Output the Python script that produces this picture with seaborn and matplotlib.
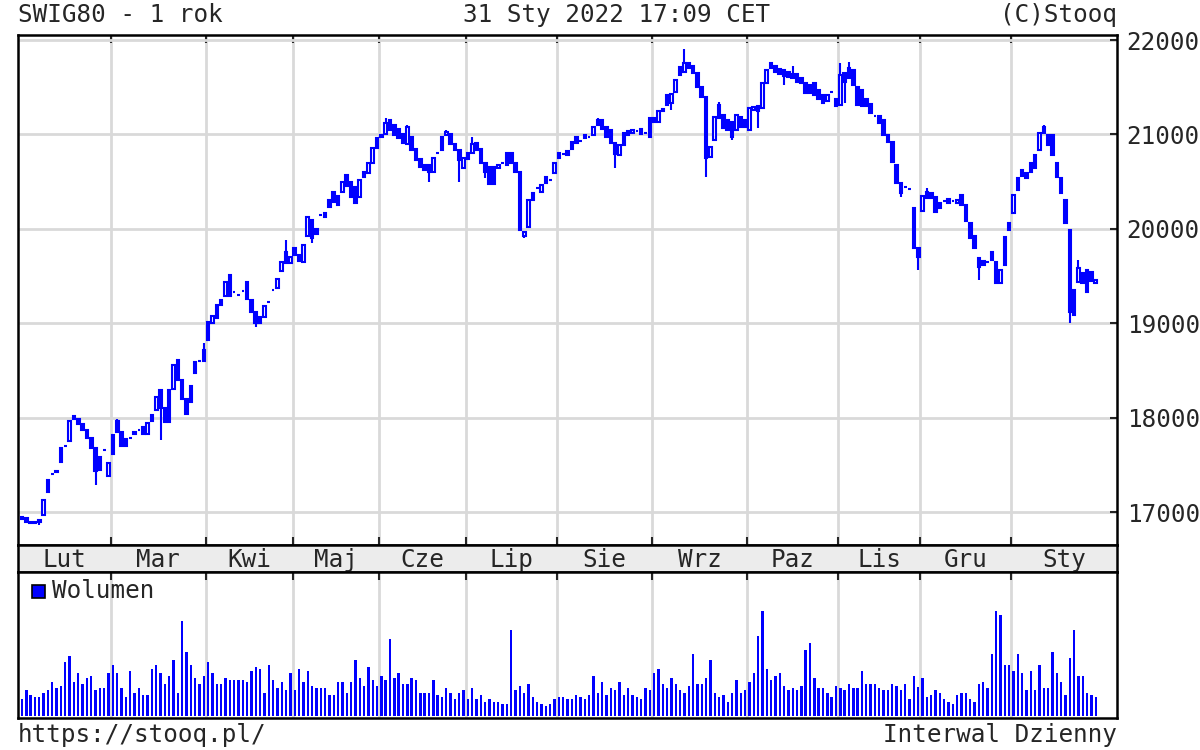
import numpy as np
import pandas as pd
import seaborn as sns
import matplotlib.pyplot as plt
from matplotlib.patches import Rectangle

sns.set_style("white")
plt.rcParams["font.family"] = ["DejaVu Sans Mono", "DejaVu Sans"]

BLUE = "#0000ff"
GRID = "#d9d9d9"

months = ["Lut", "Mar", "Kwi", "Maj", "Cze", "Lip", "Sie", "Wrz", "Paz", "Lis", "Gru", "Sty"]
month_len = [21, 22, 20, 20, 20, 21, 22, 22, 21, 19, 21, 20]
price_ticks = [17000, 18000, 19000, 20000, 21000, 22000]

# (open, close) for each session, month by month
feb = [(16950, 16930), (16940, 16900), (16900, 16880), (16900, 16890), (16920, 16900),
       (16970, 17130), (17210, 17340), (17400, 17400), (17420, 17440), (17530, 17680),
       (17700, 17700), (17750, 17960), (18020, 17990), (17990, 17930), (17930, 17870),
       (17870, 17780), (17780, 17680), (17680, 17440), (17450, 17580), (17660, 17660),
       (17380, 17520)]
mar = [(17620, 17820), (17960, 17850), (17850, 17700), (17700, 17770), (17790, 17790),
       (17830, 17850), (17870, 17870), (17900, 17830), (17830, 17940), (17960, 18030),
       (18080, 18220), (18290, 18100), (18100, 17950), (17950, 18290), (18300, 18560),
       (18610, 18400), (18400, 18200), (18200, 18040), (18170, 18340), (18470, 18590),
       (18600, 18600), (18600, 18720)]
apr = [(18820, 19010), (19000, 19080), (19060, 19190), (19190, 19250), (19290, 19440),
       (19510, 19290), (19330, 19330), (19300, 19300), (19340, 19340), (19440, 19260),
       (19250, 19120), (19120, 19000), (19000, 19070), (19070, 19180), (19230, 19230),
       (19350, 19350), (19370, 19470), (19550, 19650), (19750, 19640), (19640, 19700)]
may = [(19800, 19720), (19720, 19660), (19653, 19830), (19920, 20130), (20090, 19900),
       (20000, 19950), (20147, 20147), (20165, 20130), (20306, 20235), (20394, 20280),
       (20350, 20253), (20394, 20500), (20570, 20450), (20500, 20341), (20447, 20270),
       (20341, 20518), (20553, 20606), (20588, 20694), (20694, 20853), (20853, 20959)]
jun = [(20976, 20994), (21000, 21120), (21150, 21050), (21100, 20990), (21060, 20960),
       (21000, 20910), (20900, 21080), (20976, 20835), (20850, 20730), (20740, 20659),
       (20680, 20620), (20676, 20606), (20606, 20747), (20800, 20800), (20835, 20976),
       (20990, 21030), (21000, 20900), (20900, 20835), (20835, 20729), (20641, 20747)]
jul = [(20740, 20800), (20800, 20900), (20906, 20840), (20850, 20700), (20700, 20600),
       (20650, 20480), (20480, 20650), (20641, 20676), (20700, 20700), (20680, 20800),
       (20800, 20700), (20700, 20600), (20600, 19990), (19920, 19970), (20023, 20306),
       (20306, 20376), (20430, 20430), (20394, 20465), (20553, 20482), (20520, 20520),
       (20588, 20694)]
aug = [(20800, 20750), (20790, 20790), (20820, 20780), (20850, 20920), (20976, 20906),
       (20930, 20930), (20994, 20959), (20970, 20970), (20994, 21082), (21100, 21150),
       (21150, 21060), (21080, 20976), (21047, 20906), (20906, 20790), (20782, 20888),
       (20888, 21012), (20990, 21040), (21020, 21050), (21040, 21040), (21060, 21000),
       (21010, 21010), (20976, 21171)]
sep = [(21171, 21130), (21130, 21250), (21250, 21270), (21312, 21418), (21330, 21430),
       (21453, 21576), (21629, 21718), (21665, 21753), (21760, 21700), (21720, 21647),
       (21650, 21500), (21500, 21400), (21400, 20747), (20765, 20870), (20941, 21188),
       (21312, 21171), (21206, 21065), (21150, 21050), (21135, 20976), (21047, 21206),
       (21180, 21080), (21080, 21150)]
oct_ = [(21047, 21277), (21260, 21290), (21300, 21250), (21277, 21541), (21541, 21682),
        (21700, 21753), (21720, 21660), (21690, 21640), (21680, 21620), (21660, 21610),
        (21640, 21600), (21640, 21560), (21600, 21540), (21541, 21435), (21520, 21440),
        (21540, 21420), (21470, 21380), (21418, 21330), (21350, 21420), (21450, 21450),
        (21380, 21300)]
nov = [(21312, 21629), (21647, 21560), (21700, 21600), (21680, 21524), (21506, 21312),
       (21470, 21300), (21380, 21300), (21320, 21230), (21190, 21190), (21200, 21120),
       (21153, 20994), (20923, 20994), (20923, 20712), (20676, 20482), (20482, 20380),
       (20440, 20440), (20420, 20420), (20217, 19794), (19800, 19706)]
dec = [(20193, 20348), (20394, 20330), (20380, 20323), (20341, 20180), (20217, 20270),
       (20300, 20300), (20320, 20270), (20290, 20290), (20270, 20310), (20359, 20250),
       (20250, 20080), (20058, 19900), (19920, 19794), (19688, 19600), (19660, 19620),
       (19650, 19650), (19759, 19670), (19653, 19423), (19423, 19565), (19617, 19917),
       (19988, 20058)]
jan = [(20165, 20359), (20411, 20535), (20620, 20560), (20590, 20540), (20606, 20694),
       (20641, 20782), (20835, 21012), (21012, 21082), (20994, 20888), (20994, 20782),
       (20694, 20553), (20535, 20376), (20306, 20058), (19988, 19123), (19088, 19353),
       (19441, 19582), (19529, 19423), (19565, 19335), (19540, 19450), (19423, 19458)]

# long shadows visible on the chart (session index -> price)
wick_high = {22: 17990, 42: 18790, 61: 19880, 84: 21170, 89: 21100, 98: 21050,
             104: 20976, 133: 21170, 153: 21900, 161: 21340, 173: 21760, 178: 21720,
             189: 21760, 191: 21770, 209: 20430, 231: 20623, 236: 21100, 244: 19670}
wick_low = {4: 16860, 17: 17290, 32: 17760, 54: 18960, 67: 19847, 94: 20500,
            101: 20500, 107: 20535, 116: 19900, 137: 20641, 150: 21260, 158: 20553,
            164: 20940, 170: 21065, 176: 21524, 190: 21330, 203: 20340, 207: 19565,
            221: 19458, 242: 19000}

volume = [52, 77, 64, 57, 57, 70, 77, 103, 83, 89,
          161, 180, 103, 128, 96, 115, 121, 77, 83, 83,
          128, 154, 128, 83, 57, 135, 70, 83, 64, 64,
          141, 154, 128, 96, 121, 167, 70, 283, 193, 154,
          115, 96, 121, 161, 128, 96, 96, 115, 109, 109,
          109, 109, 103, 135, 148, 141, 70, 154, 109, 83,
          103, 77, 128, 77, 141, 103, 135, 89, 83, 83,
          83, 64, 64, 103, 103, 70, 103, 167, 115, 89,
          148, 109, 89, 121, 109, 231, 115, 128, 96, 96,
          115, 109, 70, 70, 70, 109, 64, 57, 83, 70,
          51, 70, 77, 51, 83, 51, 64, 44, 51, 44,
          44, 38, 38, 257, 77, 89, 70, 96, 57, 44,
          38, 32, 38, 51,
          57, 57, 51, 51, 64, 57, 51, 64, 121, 70,
          103, 64, 83, 77, 103, 64, 83, 64, 57, 51,
          83, 77, 128, 141, 96, 83, 115, 96, 77, 70,
          89, 187, 96, 96, 115, 167, 70, 57, 64, 44,
          70, 109, 70, 77, 103, 128, 238, 315, 141, 109,
          121, 128, 89, 77, 83, 77, 89, 199, 219, 115,
          83, 83, 70, 57, 89, 83, 77, 96, 83, 83,
          135, 96, 96, 96, 83, 77, 77, 96, 89, 77,
          96, 51, 121, 86, 115, 57, 64, 77, 70, 51,
          44, 38, 64, 70, 70, 51, 44, 96, 103, 83,
          187, 315, 302, 154, 154, 135, 187, 128, 77, 135,
          77, 154, 83, 83, 193, 128, 103, 64, 173, 257,
          121, 121, 70, 64, 57]

sessions = feb + mar + apr + may + jun + jul + aug + sep + oct_ + nov + dec + jan
df = pd.DataFrame(sessions, columns=["open", "close"])
df["day"] = np.arange(len(df))
df["high"] = df[["open", "close"]].max(axis=1)
df["low"] = df[["open", "close"]].min(axis=1)
for k, v in wick_high.items():
    df.loc[k, "high"] = v
for k, v in wick_low.items():
    df.loc[k, "low"] = v
df["volume"] = volume

month_start = np.cumsum([0] + month_len[:-1])
bounds = month_start[1:] - 0.5
x0, x1 = -0.92, 252.9
edges = np.concatenate([[x0], bounds, [x1]])
centers = (edges[:-1] + edges[1:]) / 2

W, H = 1200, 750
fig = plt.figure(figsize=(12, 7.5), dpi=100)


def box(l, t, r, b):
    return [l / W, 1 - b / H, (r - l) / W, (b - t) / H]


axp = fig.add_axes(box(18, 35, 1117, 545))
axm = fig.add_axes(box(18, 545, 1117, 572))
axv = fig.add_axes(box(18, 572, 1117, 718))

# price panel
up = df.close > df.open
axp.vlines(df.day, df.low, df.high, color=BLUE, lw=1.5, zorder=2)
axp.bar(df.day, (df.close - df.open).abs(), bottom=df[["open", "close"]].min(axis=1),
        width=0.6, color=np.where(up, "white", BLUE), edgecolor=BLUE, linewidth=1.5,
        zorder=3)
axp.set_xlim(x0, x1)
axp.set_ylim(16652, 22053)
axp.set_yticks(price_ticks)
axp.set_xticks(bounds)
axp.grid(True, color=GRID, lw=2)
axp.set_axisbelow(True)
axp.tick_params(axis="y", direction="in", length=5, width=1.5, left=False, right=True,
                labelleft=False, labelright=True, labelsize=17.5, pad=7)
axp.tick_params(axis="x", direction="in", length=6, width=1.5, top=True, bottom=True,
                labelbottom=False)

# month strip
axm.set_facecolor("#ececec")
axm.set_xlim(x0, x1)
axm.set_ylim(0, 1)
axm.set_xticks([])
axm.set_yticks([])
for c, name in zip(centers, months):
    axm.text(c, 0.45, name, ha="center", va="center", fontsize=17.5)

# volume panel
sns.barplot(data=df, x="day", y="volume", native_scale=True, color=BLUE, saturation=1,
            width=0.55, errorbar=None, linewidth=0, ax=axv, zorder=3)
axv.set_xlim(x0, x1)
axv.set_ylim(-5, 430)
axv.set_xticks(bounds)
axv.set_yticks([])
axv.set_xlabel("")
axv.set_ylabel("")
axv.grid(True, axis="x", color=GRID, lw=2)
axv.set_axisbelow(True)
axv.tick_params(axis="x", direction="in", length=6, width=1.5, top=True, bottom=False,
                labelbottom=False)

for ax in (axp, axm, axv):
    for s in ax.spines.values():
        s.set_color("black")
        s.set_linewidth(1.8)

fig.add_artist(Rectangle((32 / W, 1 - 598 / H), 13 / W, 13 / H, transform=fig.transFigure,
                         facecolor=BLUE, edgecolor="black", lw=1.2))
fig.text(52 / W, 1 - 591 / H, "Wolumen", ha="left", va="center", fontsize=17.5)

fig.text(18 / W, 1 - 15 / H, "SWIG80 - 1 rok", ha="left", va="center", fontsize=17.5)
fig.text(617 / W, 1 - 15 / H, "31 Sty 2022 17:09 CET", ha="center", va="center", fontsize=17.5)
fig.text(1117 / W, 1 - 15 / H, "(C)Stooq", ha="right", va="center", fontsize=17.5)
fig.text(18 / W, 1 - 735 / H, "https://stooq.pl/", ha="left", va="center", fontsize=17.5)
fig.text(1117 / W, 1 - 735 / H, "Interwal Dzienny", ha="right", va="center", fontsize=17.5)

fig.savefig("out.png", dpi=100, facecolor="white")
